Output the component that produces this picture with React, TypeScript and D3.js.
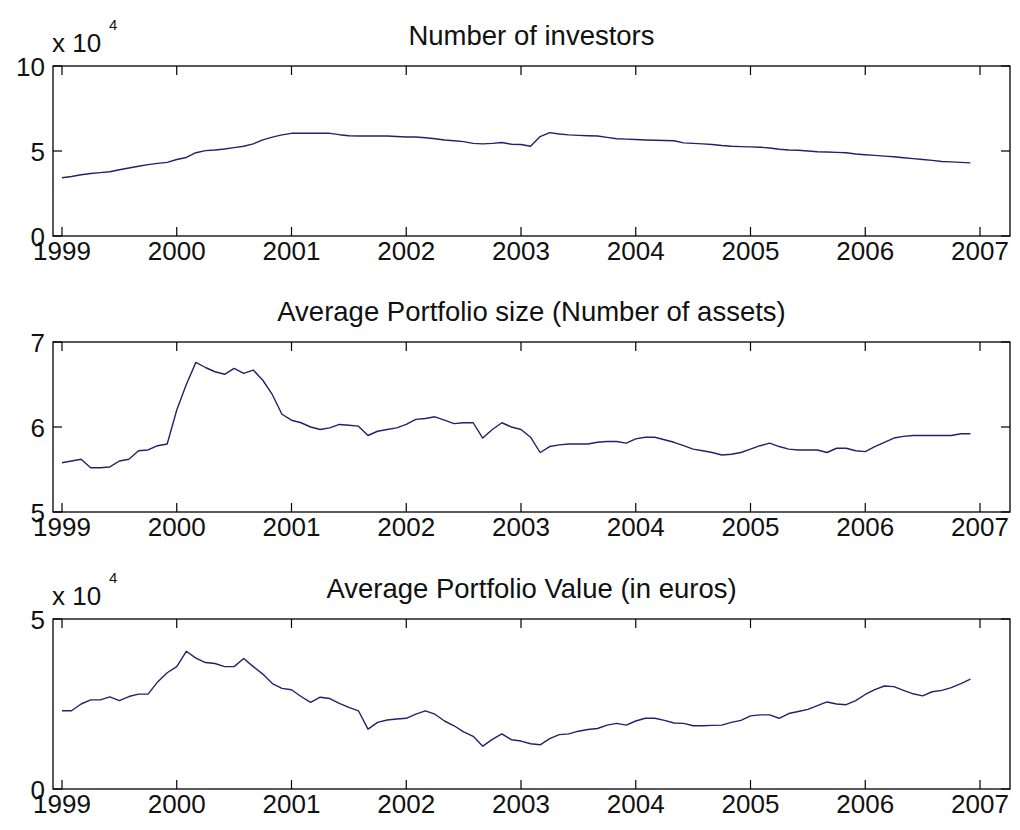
import React from "react";
import * as d3 from "d3";

// ---- data (monthly, Jan 1999 .. Dec 2006) ----
const startYear = 1999;
const yearTicks = [1999, 2000, 2001, 2002, 2003, 2004, 2005, 2006, 2007];

// Number of investors (x 10^4)
const investors = [
  3.43, 3.5, 3.6, 3.68, 3.73, 3.78, 3.9, 4.0, 4.1, 4.2, 4.27, 4.33,
  4.5, 4.62, 4.9, 5.02, 5.06, 5.12, 5.2, 5.28, 5.42, 5.65, 5.82, 5.95,
  6.04, 6.04, 6.04, 6.04, 6.04, 5.96, 5.9, 5.88, 5.88, 5.88, 5.88, 5.85,
  5.82, 5.82, 5.78, 5.72, 5.65, 5.6, 5.55, 5.45, 5.42, 5.45, 5.5, 5.4,
  5.38, 5.28, 5.85, 6.08, 6.0, 5.95, 5.92, 5.9, 5.88, 5.8, 5.72, 5.7,
  5.68, 5.65, 5.63, 5.62, 5.6, 5.48, 5.45, 5.42, 5.38, 5.32, 5.28, 5.26,
  5.24, 5.22, 5.18, 5.1, 5.06, 5.04, 5.0, 4.96, 4.94, 4.92, 4.9, 4.82,
  4.78, 4.74, 4.7, 4.66, 4.6, 4.55, 4.5, 4.45, 4.38, 4.36, 4.33, 4.3,
];

// Average portfolio size (number of assets)
const portfolioSize = [
  5.58, 5.6, 5.62, 5.52, 5.52, 5.53, 5.6, 5.62, 5.72, 5.73, 5.78, 5.8,
  6.2, 6.5, 6.76, 6.7, 6.65, 6.62, 6.69, 6.63, 6.67, 6.55, 6.38, 6.15,
  6.08, 6.05, 6.0, 5.97, 5.99, 6.03, 6.02, 6.01, 5.9, 5.95, 5.97, 5.99,
  6.03, 6.09, 6.1, 6.12, 6.08, 6.04, 6.05, 6.05, 5.87, 5.97, 6.05, 6.0,
  5.97, 5.88, 5.7, 5.77, 5.79, 5.8, 5.8, 5.8, 5.82, 5.83, 5.83, 5.81,
  5.86, 5.88, 5.88, 5.85, 5.82, 5.78, 5.74, 5.72, 5.7, 5.67, 5.68, 5.7,
  5.74, 5.78, 5.81, 5.77, 5.74, 5.73, 5.73, 5.73, 5.7, 5.75, 5.75, 5.72,
  5.71, 5.77, 5.82, 5.87, 5.89, 5.9, 5.9, 5.9, 5.9, 5.9, 5.92, 5.92,
];

// Average portfolio value in euros (x 10^4)
const portfolioValue = [
  2.3, 2.3, 2.5, 2.62, 2.62, 2.71, 2.6, 2.72, 2.79, 2.79, 3.15, 3.42,
  3.6, 4.05, 3.85, 3.72, 3.69, 3.6, 3.6, 3.84, 3.6, 3.38, 3.1, 2.96,
  2.92, 2.72, 2.55, 2.7, 2.66, 2.52, 2.4, 2.3, 1.76, 1.96, 2.03, 2.06,
  2.08, 2.2, 2.3, 2.2, 2.0, 1.86, 1.68, 1.55, 1.26, 1.46, 1.62, 1.45,
  1.41, 1.33, 1.3, 1.48, 1.6, 1.62, 1.7, 1.75, 1.78, 1.88, 1.93, 1.88,
  2.0, 2.08, 2.08, 2.02, 1.94, 1.93, 1.86, 1.86, 1.87, 1.88, 1.96, 2.02,
  2.15, 2.18, 2.18, 2.08, 2.22, 2.28, 2.34, 2.45, 2.56, 2.5, 2.48, 2.6,
  2.78, 2.92, 3.03, 3.01, 2.9, 2.8, 2.74, 2.86, 2.9, 2.98, 3.1, 3.23,
];

const titles = [
  "Number of investors",
  "Average Portfolio size (Number of assets)",
  "Average Portfolio Value (in euros)",
];
const yDomains: [number, number][] = [[0, 10], [5, 7], [0, 5]];
const yTickSets = [[0, 5, 10], [5, 6, 7], [0, 5]];
const exponents = [true, false, true];
const seriesList = [investors, portfolioSize, portfolioValue];

// ---- layout ----
const W = 1020;
const H = 830;
const left = 53;
const right = 1010;
const panelTops = [66, 342, 619];
const panelH = 170;
const tickLen = 9;
const FONT = "'Liberation Sans', Arial, Helvetica, sans-serif";
const LINE_COLOR = "#22226c";

const xScale = d3
  .scaleLinear()
  .domain([1998.9216, 2007.2614])
  .range([left, right]);

function Panel({ idx }: { idx: number }) {
  const top = panelTops[idx];
  const bottom = top + panelH;
  const y = d3.scaleLinear().domain(yDomains[idx]).range([bottom, top]);
  const values = seriesList[idx];
  const line = d3
    .line<number>()
    .x((_, i) => xScale(startYear + i / 12))
    .y((v) => y(v));
  const cx = (left + right) / 2;
  return (
    <g>
      <text
        x={cx}
        y={top - 21}
        textAnchor="middle"
        fontSize={27.5}
        fontFamily={FONT}
        fill="#111"
      >
        {titles[idx]}
      </text>
      {exponents[idx] && (
        <g fontFamily={FONT} fill="#111">
          <text x={52} y={top - 14} fontSize={26}>
            x 10
          </text>
          <text x={109} y={top - 36} fontSize={15}>
            4
          </text>
        </g>
      )}
      <path
        d={line(values) || ""}
        fill="none"
        stroke={LINE_COLOR}
        strokeWidth={1.4}
        strokeLinejoin="round"
      />
      <rect
        x={left}
        y={top}
        width={right - left}
        height={panelH}
        fill="none"
        stroke="#000"
        strokeWidth={1.3}
      />
      {yearTicks.map((t) => (
        <g key={t}>
          <line
            x1={xScale(t)}
            x2={xScale(t)}
            y1={bottom}
            y2={bottom - tickLen}
            stroke="#000"
            strokeWidth={1.2}
          />
          <line
            x1={xScale(t)}
            x2={xScale(t)}
            y1={top}
            y2={top + tickLen}
            stroke="#000"
            strokeWidth={1.2}
          />
          <text
            x={xScale(t)}
            y={bottom + 24}
            textAnchor="middle"
            fontSize={26}
            fontFamily={FONT}
            fill="#111"
          >
            {t}
          </text>
        </g>
      ))}
      {yTickSets[idx].map((t) => (
        <g key={t}>
          <line
            x1={left}
            x2={left + tickLen}
            y1={y(t)}
            y2={y(t)}
            stroke="#000"
            strokeWidth={1.2}
          />
          <line
            x1={right}
            x2={right - tickLen}
            y1={y(t)}
            y2={y(t)}
            stroke="#000"
            strokeWidth={1.2}
          />
          <text
            x={45}
            y={y(t) + 9.5}
            textAnchor="end"
            fontSize={26}
            fontFamily={FONT}
            fill="#111"
          >
            {t}
          </text>
        </g>
      ))}
    </g>
  );
}

export default function App() {
  return (
    <svg
      width={W}
      height={H}
      viewBox={`0 0 ${W} ${H}`}
      style={{ position: "absolute", left: 0, top: 0, background: "#fff" }}
    >
      <rect x={0} y={0} width={W} height={H} fill="#fff" />
      {[0, 1, 2].map((i) => (
        <Panel key={i} idx={i} />
      ))}
    </svg>
  );
}
